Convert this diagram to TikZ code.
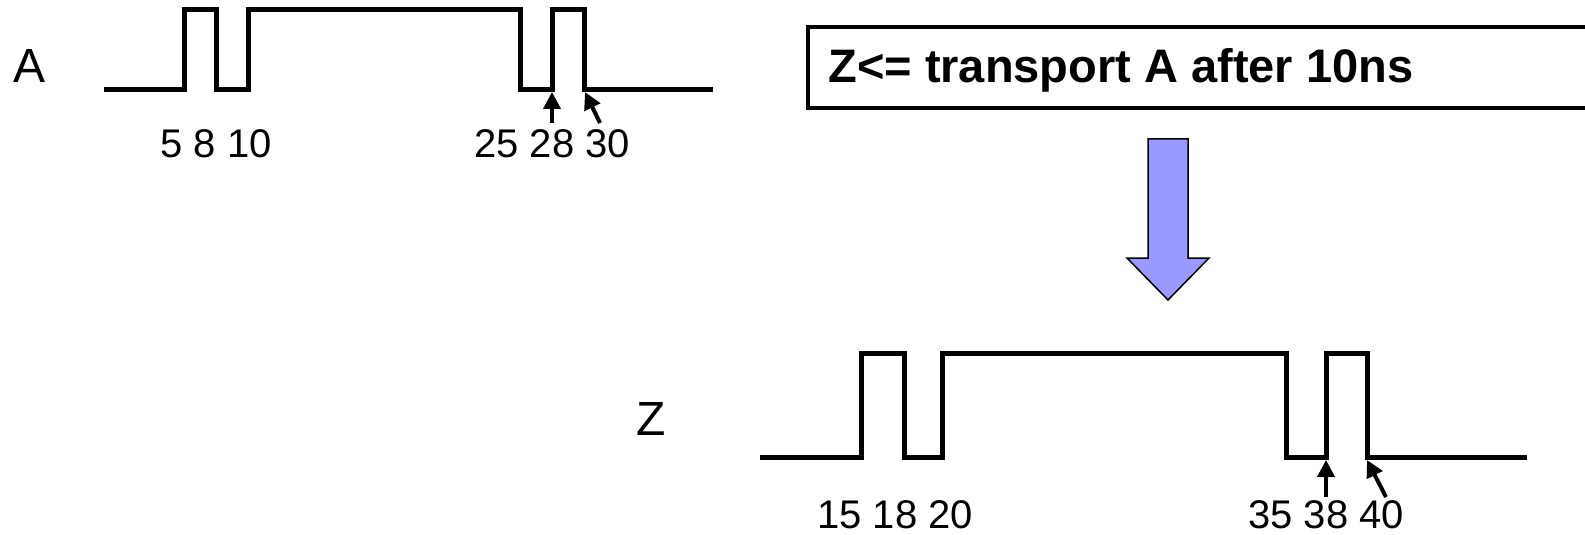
\documentclass[tikz,border=0pt]{standalone}
\usepackage{fontspec}
\setmainfont{Liberation Sans}
\usetikzlibrary{arrows.meta}
\definecolor{arrowblue}{RGB}{153,153,255}
\tikzset{
  wave/.style={line width=2.5pt, line join=miter},
  pointer/.style={line width=2pt, -{Triangle[length=8.5pt,width=8.5pt]}},
  tick/.style={anchor=base west, inner sep=0pt, font=\fontsize{20}{24}\selectfont},
  signame/.style={anchor=base west, inner sep=0pt, font=\fontsize{24}{28}\selectfont},
  stmt/.style={anchor=base west, inner sep=0pt, font=\fontsize{23.5}{28}\selectfont\bfseries},
  frame/.style={line width=1.75pt},
  bigarrow/.style={fill=arrowblue, draw=black, line width=0.75pt, line join=miter}
}
\begin{document}
\begin{tikzpicture}[x=0.5pt, y=-0.5pt]
\useasboundingbox (0,0) rectangle (1585,535);

% signal A
\node[signame] (lblA) at (13,83) {A};
\draw[wave] (104,89.5) -- (184,89.5) -- (184,10) -- (216,10) -- (216,89.5)
  -- (248,89.5) -- (248,10) -- (520,10) -- (520,89.5) -- (552,89.5)
  -- (552,10) -- (584,10) -- (584,89.5) -- (713,89.5);
\node[tick] (tA1) at (160,157) {5 8 10};
\node[tick] (tA2) at (474,157) {25 28 30};
\coordinate (a28tail) at (552,123);
\coordinate (a28tip) at (552,92);
\coordinate (a30tail) at (600,123);
\coordinate (a30tip) at (585,92);
\draw[pointer] (a28tail) -- (a28tip);
\draw[pointer] (a30tail) -- (a30tip);

% statement box, open on the right
\draw[frame] (1590,27) -- (808,27) -- (808,108) -- (1590,108);
\node[stmt] (stmt) at (828,83) {Z<= transport A after 10ns};

% block arrow
\draw[bigarrow] (1148,139) -- (1188,139) -- (1188,258) -- (1209,258)
  -- (1168,300) -- (1127,258) -- (1148,258) -- cycle;

% signal Z
\node[signame] (lblZ) at (636,435) {Z};
\draw[wave] (760,457) -- (861,457) -- (861,353) -- (904,353) -- (904,457)
  -- (942,457) -- (942,353) -- (1286,353) -- (1286,457) -- (1326,457)
  -- (1326,353) -- (1367,353) -- (1367,457) -- (1527,457);
\node[tick] (tZ1) at (817,528) {15 18 20};
\node[tick] (tZ2) at (1248,528) {35 38 40};
\coordinate (z38tail) at (1326,497);
\coordinate (z38tip) at (1326,460);
\coordinate (z40tail) at (1386,497);
\coordinate (z40tip) at (1367,460);
\draw[pointer] (z38tail) -- (z38tip);
\draw[pointer] (z40tail) -- (z40tip);
\end{tikzpicture}
\end{document}
